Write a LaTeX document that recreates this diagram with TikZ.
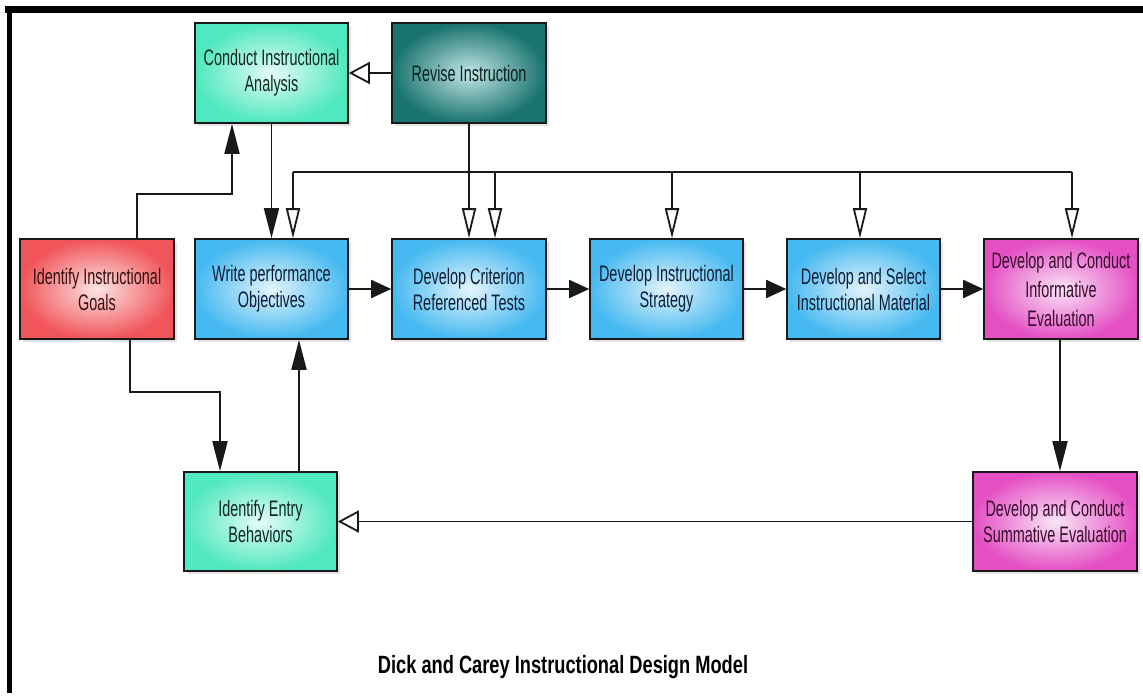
\documentclass[tikz,border=0pt]{standalone}
\usepackage{fontspec}
\setmainfont{Liberation Sans}[FakeStretch=0.645]
\newfontfamily\titlefont{Liberation Sans}[FakeStretch=0.73]
\usetikzlibrary{arrows.meta,shadows,calc}
\definecolor{aquaO}{RGB}{80,232,190}
\definecolor{aquaI}{RGB}{228,252,246}
\definecolor{tealO}{RGB}{25,115,110}
\definecolor{tealI}{RGB}{195,230,230}
\definecolor{redO}{RGB}{240,85,90}
\definecolor{redI}{RGB}{252,228,228}
\definecolor{blueO}{RGB}{70,185,240}
\definecolor{blueI}{RGB}{228,244,252}
\definecolor{pinkO}{RGB}{228,80,196}
\definecolor{pinkI}{RGB}{250,228,246}
\definecolor{lineC}{RGB}{25,25,25}
\definecolor{txtA}{RGB}{15,40,32}
\definecolor{txtT}{RGB}{10,32,32}
\definecolor{txtR}{RGB}{55,15,15}
\definecolor{txtB}{RGB}{12,30,55}
\definecolor{txtP}{RGB}{55,12,45}
\tikzset{
  box/.style={draw=lineC, line width=1.6pt, rectangle, minimum width=153pt, minimum height=100pt,
    align=center, font=\fontsize{22.4}{26}\selectfont, inner sep=2pt,
    drop shadow={shadow xshift=3pt, shadow yshift=-3pt, opacity=0.22}},
  aquabox/.style={box, inner color=aquaI, outer color=aquaO, text=txtA},
  tealbox/.style={box, inner color=tealI, outer color=tealO, text=txtT},
  redbox/.style={box, inner color=redI, outer color=redO, text=txtR},
  bluebox/.style={box, inner color=blueI, outer color=blueO, text=txtB},
  pinkbox/.style={box, inner color=pinkI, outer color=pinkO, text=txtP},
  conn/.style={draw=lineC, line width=1.8pt},
  fwd/.style={conn, -{Triangle[length=20pt,width=18pt]}},
  vtip/.style={conn, -{Triangle[length=30pt,width=15pt]}},
  opentip/.style={conn, -{Triangle[open,length=30pt,width=14pt,fill=white]}},
  openside/.style={conn, -{Triangle[open,length=21pt,width=22pt,fill=white]}},
  frameline/.style={draw=black}
}
\begin{document}
\begin{tikzpicture}[x=1pt,y=-1pt]
\useasboundingbox (0,0) rectangle (1143,696);
\fill[white] (0,0) rectangle (1143,696);
\draw[frameline, line width=7pt] (5,9.5) -- (1143,9.5);
\draw[frameline, line width=5.5pt] (9.5,6) -- (9.5,693);

\node[aquabox] (conduct) at (271.5,73) {Conduct Instructional\\Analysis};
\node[tealbox, minimum width=154pt] (revise) at (469,73) {Revise Instruction};
\node[redbox, minimum width=154pt] (goals) at (97,289) {Identify Instructional\\Goals};
\node[bluebox] (write) at (271.5,289) {Write performance\\Objectives};
\node[bluebox, minimum width=154pt] (crit) at (469,289) {Develop Criterion\\Referenced Tests};
\node[bluebox] (strat) at (666.5,289) {Develop Instructional\\Strategy};
\node[bluebox] (mat) at (863.5,289) {Develop and Select\\Instructional Material};
\node[pinkbox, minimum width=154pt, font=\fontsize{22.4}{29}\selectfont] (inform) at (1061,289) {Develop and Conduct\\Informative\\Evaluation};
\node[aquabox, minimum height=99pt] (entry) at (260.5,521.5) {Identify Entry\\Behaviors};
\node[pinkbox, minimum width=164pt, minimum height=99pt] (summ) at (1055,521.5) {Develop and Conduct\\Summative Evaluation};

\node[font=\titlefont\bfseries\fontsize{25}{30}\selectfont, text=black] (title) at (563,667) {Dick and Carey Instructional Design Model};

% goals -> conduct
\draw[vtip] ([xshift=40pt]goals.north) -- ++(0,-44) -| ([xshift=-39.5pt]conduct.south);
% goals -> entry
\draw[vtip] ([xshift=33pt]goals.south) -- ++(0,52) -| ([xshift=-40.5pt]entry.north);
% conduct -> write
\draw[vtip] (conduct.south) -- (write.north);
% revise -> conduct
\draw[openside] (revise.west) -- (conduct.east);
% revise -> criterion
\draw[opentip] (revise.south) -- (crit.north);
% feedback bus
\coordinate (dWrite) at ($(write.north)+(21.5,0)$);
\coordinate (dCrit) at ($(crit.north)+(26,0)$);
\coordinate (dStrat) at ($(strat.north)+(5.5,0)$);
\coordinate (dMat) at ($(mat.north)+(-3.5,0)$);
\coordinate (dInf) at ($(inform.north)+(11,0)$);
\coordinate (busY) at (0,172);
\draw[conn] (dWrite |- busY) -- (dInf |- busY);
\draw[opentip] (dWrite |- busY) -- (dWrite);
\draw[opentip] (dCrit |- busY) -- (dCrit);
\draw[opentip] (dStrat |- busY) -- (dStrat);
\draw[opentip] (dMat |- busY) -- (dMat);
\draw[opentip] (dInf |- busY) -- (dInf);
% main chain
\draw[fwd] (write.east) -- (crit.west);
\draw[fwd] (crit.east) -- (strat.west);
\draw[fwd] (strat.east) -- (mat.west);
\draw[fwd] (mat.east) -- (inform.west);
% informative -> summative
\coordinate (iS) at ($(inform.south)+(-1,0)$);
\draw[vtip] (iS) -- (iS |- summ.north);
% summative -> entry
\draw[openside] (summ.west) -- (entry.east);
% entry -> write
\coordinate (eN) at ($(entry.north)+(38.5,0)$);
\draw[vtip] (eN) -- (eN |- write.south);
\end{tikzpicture}
\end{document}
